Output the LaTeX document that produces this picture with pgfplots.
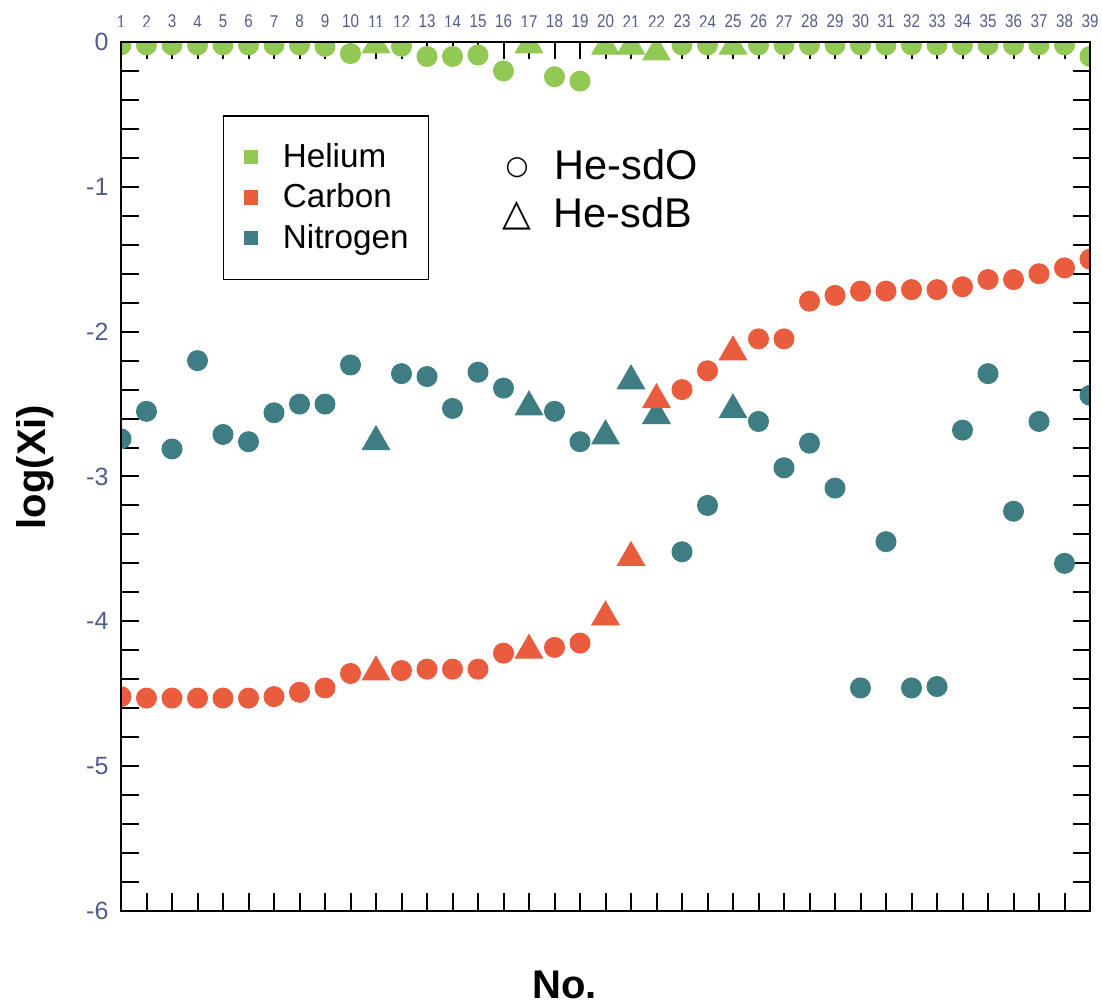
\documentclass[border=0pt]{standalone}
\usepackage{pgfplots}
\usepackage{pgfplotstable}
\pgfplotsset{compat=1.18}
\usepackage{fontspec}
\setmainfont{Liberation Sans}
\newfontfamily\symfont{DejaVu Sans}
\newfontfamily\narrowfont[FakeStretch=0.82]{Liberation Sans}

\definecolor{he}{RGB}{146,200,84}
\definecolor{ca}{RGB}{234,92,62}
\definecolor{ni}{RGB}{62,125,130}
\definecolor{tk}{RGB}{82,92,140}

% He-sdO stars (circles)
\pgfplotstableread{
x y
1 -0.02
2 -0.02
3 -0.02
4 -0.02
5 -0.02
6 -0.02
7 -0.02
8 -0.02
9 -0.03
10 -0.08
12 -0.03
13 -0.10
14 -0.10
15 -0.09
16 -0.20
18 -0.24
19 -0.27
23 -0.02
24 -0.02
26 -0.02
27 -0.02
28 -0.02
29 -0.02
30 -0.02
31 -0.02
32 -0.02
33 -0.02
34 -0.02
35 -0.02
36 -0.02
37 -0.02
38 -0.02
39 -0.10
}\heO
\pgfplotstableread{
x y
1 -4.52
2 -4.53
3 -4.53
4 -4.53
5 -4.53
6 -4.53
7 -4.52
8 -4.49
9 -4.46
10 -4.36
12 -4.34
13 -4.33
14 -4.33
15 -4.33
16 -4.22
18 -4.18
19 -4.15
23 -2.40
24 -2.27
26 -2.05
27 -2.05
28 -1.79
29 -1.75
30 -1.72
31 -1.72
32 -1.71
33 -1.71
34 -1.69
35 -1.64
36 -1.64
37 -1.60
38 -1.56
39 -1.50
}\caO
\pgfplotstableread{
x y
1 -2.74
2 -2.55
3 -2.81
4 -2.20
5 -2.71
6 -2.76
7 -2.56
8 -2.50
9 -2.50
10 -2.23
12 -2.29
13 -2.31
14 -2.53
15 -2.28
16 -2.39
18 -2.55
19 -2.76
23 -3.52
24 -3.20
26 -2.62
27 -2.94
28 -2.77
29 -3.08
30 -4.46
31 -3.45
32 -4.46
33 -4.45
34 -2.68
35 -2.29
36 -3.24
37 -2.62
38 -3.60
39 -2.44
}\niO
% He-sdB stars (triangles)
\pgfplotstableread{
x y
11 -0.02
17 -0.02
20 -0.03
21 -0.03
22 -0.07
25 -0.03
}\heB
\pgfplotstableread{
x y
11 -4.35
17 -4.20
20 -3.97
21 -3.56
22 -2.47
25 -2.14
}\caB
\pgfplotstableread{
x y
11 -2.76
17 -2.52
20 -2.72
21 -2.34
22 -2.58
25 -2.54
}\niB

\begin{document}
\begin{tikzpicture}
\begin{axis}[
    scale only axis,
    width=387.6pt, height=347.6pt,
    xmin=1, xmax=39, ymin=-6, ymax=0,
    xtick={1,...,39}, ytick={-6,...,0},
    minor y tick num=4,
    tick align=inside,
    xtick pos=both, ytick pos=both,
    xticklabel pos=upper, yticklabel pos=lower,
    major tick length=7pt, minor tick length=7pt,
    axis line style={line width=0.8pt},
    every tick/.style={black, line width=0.8pt},
    axis on top,
    /pgf/number format/assume math mode=true,
    xticklabel style={font=\narrowfont\fontsize{7.4}{8}\selectfont, text=tk, yshift=2pt},
    yticklabel style={font=\fontsize{10}{12}\selectfont, text=tk, xshift=-1.5pt},
    xlabel={No.},
    xlabel style={font=\fontsize{16}{19}\selectfont\bfseries, at={(rel axis cs:0.458,0)}, anchor=north, inner sep=0pt, yshift=-23.6pt},
    ylabel={log(Xi)},
    ylabel style={font=\fontsize{16}{19}\selectfont\bfseries, at={(rel axis cs:-0.089,0.511)}, anchor=center},
    legend style={at={(rel axis cs:0.105,0.916)}, anchor=north west, draw=black, line width=0.7pt,
        font=\fontsize{13.3}{16}\selectfont, inner xsep=6pt, inner ysep=9pt, row sep=1pt},
    legend cell align=left,
    legend image code/.code={\path (0pt,0pt) (15pt,0pt); \draw[#1] plot coordinates {(4.5pt,0pt)};},
]
\addlegendimage{only marks, mark=square*, mark size=2.5pt, color=he}
\addlegendentry{Helium}
\addlegendimage{only marks, mark=square*, mark size=2.5pt, color=ca}
\addlegendentry{Carbon}
\addlegendimage{only marks, mark=square*, mark size=2.5pt, color=ni}
\addlegendentry{Nitrogen}

\addplot[only marks, mark=*, mark size=4pt, color=he, forget plot] table {\heO};
\addplot[only marks, mark=triangle*, mark size=6.3pt, color=he, forget plot] table {\heB};
\addplot[only marks, mark=*, mark size=4pt, color=ni, forget plot] table {\niO};
\addplot[only marks, mark=triangle*, mark size=6.3pt, color=ni, forget plot] table {\niB};
\addplot[only marks, mark=*, mark size=4pt, color=ca, forget plot] table {\caO};
\addplot[only marks, mark=triangle*, mark size=6.3pt, color=ca, forget plot] table {\caB};

\node[anchor=base west, inner sep=0pt, font=\fontsize{16.6}{20}\selectfont] at (rel axis cs:0.3963,0.8412)
    {\raisebox{2pt}{\symfont\fontsize{10.5}{11}\selectfont ○}\hspace{10.5pt}He-sdO};
\node[anchor=base west, inner sep=0pt, font=\fontsize{16.6}{20}\selectfont] at (rel axis cs:0.3933,0.786)
    {\raisebox{0.8pt}{\symfont\fontsize{15}{15}\selectfont △}\hspace{9pt}He-sdB};
\end{axis}
% markers sitting on the frame are cut at the frame, as in the original
\fill[white] ([xshift=-4.5pt]current axis.south west) rectangle (current axis.north west);
\fill[white] ([xshift=-4.5pt]current axis.north west) rectangle ([shift={(5pt,5.8pt)}]current axis.north east);
\fill[white] (current axis.south east) rectangle ([xshift=5pt]current axis.north east);
\draw[line width=0.8pt] (current axis.south west) rectangle (current axis.north east);
\pgfresetboundingbox
\path ([shift={(-48.4pt,-38.4pt)}]current axis.south west) rectangle ([shift={(4.8pt,16.8pt)}]current axis.north east);
\end{tikzpicture}
\end{document}
